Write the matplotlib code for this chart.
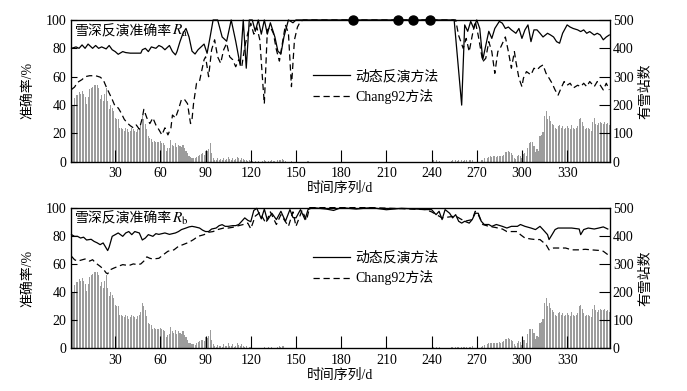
import matplotlib
matplotlib.use('Agg')
import matplotlib.pyplot as plt
from matplotlib.lines import Line2D

plt.rcParams['font.family'] = ['Liberation Serif', 'Noto Sans CJK SC']
plt.rcParams['mathtext.fontset'] = 'stix'
plt.rcParams['font.size'] = 10
plt.rcParams['axes.unicode_minus'] = False

# daily snow station counts, days 1..358
station_counts = [
    155, 200, 225, 235, 235, 245, 240, 250, 240, 230, 205, 230, 255, 260, 265,
    270, 272, 272, 260, 220, 235, 215, 240, 260, 215, 185, 200, 190, 180, 155,
    150, 150, 120, 120, 115, 110, 120, 115, 105, 110, 120, 115, 110, 105, 115,
    120, 130, 160, 150, 135, 115, 90, 85, 82, 70, 72, 70, 70, 70, 72,
    68, 65, 60, 40, 48, 50, 77, 60, 55, 65, 52, 60, 55, 52, 60,
    48, 40, 30, 20, 18, 15, 15, 12, 18, 22, 25, 28, 30, 25, 40,
    38, 45, 65, 30, 15, 8, 5, 12, 8, 10, 5, 15, 8, 10, 18,
    10, 8, 15, 6, 10, 18, 12, 8, 15, 10, 5, 8, 3, 6, 4,
    2, 0, 3, 0, 2, 0, 0, 3, 5, 2, 0, 4, 3, 5, 2,
    3, 0, 5, 8, 6, 10, 8, 2, 0, 0, 0, 2, 0, 0, 0,
    0, 0, 0, 0, 0, 0, 0, 2, 0, 0, 0, 0, 0, 0, 0,
    0, 0, 0, 0, 0, 0, 0, 0, 0, 0, 0, 0, 0, 0, 0,
    0, 0, 1, 0, 0, 0, 0, 0, 0, 0, 0, 0, 0, 0, 0,
    0, 0, 0, 0, 0, 0, 0, 0, 0, 0, 0, 0, 0, 0, 0,
    0, 0, 0, 0, 0, 0, 0, 0, 0, 0, 0, 0, 0, 0, 0,
    0, 0, 0, 0, 0, 0, 0, 0, 0, 0, 0, 0, 0, 0, 0,
    5, 0, 5, 0, 4, 0, 0, 0, 0, 0, 0, 0, 4, 5, 0,
    5, 4, 5, 0, 5, 4, 5, 6, 0, 5, 6, 8, 0, 0, 0,
    0, 0, 5, 8, 12, 0, 15, 18, 20, 18, 20, 20, 18, 20, 22,
    20, 22, 25, 35, 35, 38, 35, 30, 25, 15, 10, 20, 25, 22, 12,
    28, 30, 20, 50, 68, 70, 70, 55, 35, 45, 40, 90, 95, 105, 160,
    180, 150, 160, 145, 135, 130, 120, 115, 125, 130, 120, 125, 115, 120, 125,
    120, 115, 130, 118, 115, 120, 125, 150, 155, 140, 125, 115, 120, 118, 115,
    110, 140, 155, 135, 130, 138, 140, 138, 135, 140, 132, 136, 130,
]
bar_days = list(range(1, len(station_counts) + 1))

# Ra, dynamic inversion
ra_dyn_days = [1, 4, 6, 8, 10, 12, 15, 17, 19, 21, 24, 26, 28, 30, 32, 35, 37, 40, 44, 47,
               48, 50, 52, 54, 57, 59, 61, 63, 66, 68, 70, 71, 73, 75, 77, 79, 81, 83, 85, 87,
               89, 91, 93, 95, 98, 101, 104, 107, 110, 113, 115, 117, 119, 121, 123, 125, 127, 129, 131, 133,
               136, 138, 140, 142, 145, 148, 150, 255, 260, 262, 264, 266, 268, 270, 272, 274, 276, 278, 280, 282,
               285, 287, 289, 291, 293, 296, 298, 300, 302, 304, 306, 308, 310, 312, 314, 317, 319, 321, 323, 325,
               327, 330, 332, 334, 337, 339, 341, 343, 345, 348, 350, 352, 354, 356, 358]
ra_dyn = [80, 81, 80, 82.4, 80, 83, 80, 82, 80, 81, 79.6, 82, 79, 77.7, 75.8, 77.7, 77, 76.6, 76.6, 76.6,
          79, 80, 77.7, 81, 80, 82, 81, 79, 82, 77.7, 75.4, 77.7, 84.7, 90.6, 94, 88, 78, 76, 79, 81,
          83, 76.5, 88, 100, 100, 88, 85, 100, 85, 68, 100, 66, 100, 100, 92, 100, 90, 100, 90, 98,
          88, 78, 76, 88, 100, 98, 100, 100, 40, 96.5, 92, 99, 94, 100, 94, 72, 82, 92, 87, 94,
          99, 97.7, 94, 95, 93, 90.6, 94, 87, 93, 96.5, 84.7, 93, 93, 90.6, 88, 90.6, 89.4, 88, 84.7, 83.6,
          90.6, 96.5, 95, 94, 93, 91.8, 93, 90.6, 91.8, 89.4, 90.6, 89.4, 86, 88, 89.4]

# Ra, Chang92
ra_chang_days = [1, 3, 5, 8, 10, 13, 17, 20, 22, 24, 26, 28, 30, 32, 34, 36, 38, 40, 42, 44,
                 46, 48, 49, 51, 53, 55, 57, 59, 61, 63, 65, 67, 68, 70, 72, 74, 76, 78, 80, 81,
                 82, 84, 86, 88, 89, 90, 91, 92, 94, 96, 98, 100, 102, 104, 106, 108, 110, 112, 114, 116,
                 118, 120, 122, 124, 126, 128, 129, 130, 131, 133, 135, 137, 139, 141, 143, 145, 147, 149, 151, 153,
                 155, 256, 258, 261, 263, 265, 267, 269, 271, 274, 276, 278, 280, 282, 284, 286, 289, 291, 293, 295,
                 296, 298, 300, 301, 303, 306, 308, 310, 312, 314, 316, 318, 320, 322, 324, 326, 328, 330, 332, 334,
                 337, 339, 341, 343, 345, 348, 350, 352, 354, 356, 358]
ra_chang = [51, 52.7, 56, 58, 60, 60.7, 60.7, 59.7, 58, 53, 48.5, 44, 39, 38, 34.4, 30, 27.4, 25.5, 24, 26,
            23, 31, 37, 31, 27, 31, 26, 22.7, 19, 24, 19, 24, 33, 31, 37, 44, 44, 41, 27, 30,
            41, 55.5, 57, 67, 72, 74, 67, 60, 79, 86, 74, 69.5, 79, 83.6, 74, 72, 67, 72, 67, 81,
            90.6, 97.7, 90, 95, 86, 55, 41, 67, 93, 95, 90.6, 79, 71, 83.6, 96.5, 90.6, 53, 86, 95, 99,
            100, 100, 89, 80, 87, 77.7, 89, 99, 89, 70.6, 73, 84.7, 77.7, 62.4, 77.7, 81, 88, 77.7, 66, 77.7,
            70.6, 59, 53, 59, 63.6, 61.3, 66, 64.8, 67, 68.3, 62.4, 59, 55.4, 50.7, 47, 52, 56.6, 54, 55.4, 52,
            54, 53, 55.4, 53, 56.6, 53, 56.6, 54, 50.7, 55.4, 50.7]

# Rb, dynamic inversion
rb_dyn_days = [1, 3, 5, 7, 9, 11, 14, 16, 18, 20, 22, 25, 26, 28, 30, 32, 35, 37, 39, 41,
               43, 46, 48, 50, 52, 55, 57, 59, 61, 63, 66, 68, 70, 72, 74, 77, 79, 81, 83, 86,
               88, 90, 92, 94, 97, 99, 101, 103, 105, 108, 110, 112, 114, 116, 118, 120, 122, 124, 127, 129,
               131, 134, 137, 140, 143, 146, 148, 150, 153, 156, 158, 161, 170, 175, 180, 190, 200, 210, 220, 230,
               236, 240, 243, 245, 247, 249, 252, 254, 256, 258, 260, 262, 265, 267, 269, 271, 273, 275, 278, 280,
               283, 287, 290, 293, 297, 299, 302, 306, 309, 312, 314, 317, 318, 320, 322, 324, 329, 333, 338, 339,
               341, 344, 348, 351, 354, 357]
rb_dyn = [80.8, 79.6, 79.6, 78.4, 79, 77, 77.5, 76, 75, 73.7, 74.9, 69.5, 72, 79.6, 80.8, 82, 79.6, 82, 83, 80.8,
          83, 82, 77, 78.4, 80.8, 79.6, 81.5, 81, 81.5, 82, 81, 81.5, 82, 83, 84.4, 85.5, 86.3, 86.7, 86.3, 85.5,
          84, 83, 83, 84.8, 85.5, 87.2, 87.9, 86.7, 86.7, 87.2, 87.2, 88, 90.3, 92.7, 91, 90, 98, 99.5, 92, 99,
          91, 96, 91.5, 97.4, 90.3, 98.6, 93, 92.7, 98.6, 91.5, 98.6, 100, 99, 98, 100, 99, 100, 98.5, 99.5, 99,
          98.6, 98.6, 95, 97.4, 91.5, 98.6, 96, 92.7, 95, 90.3, 89, 90.3, 89, 91.5, 96, 96, 90.3, 88, 88, 86.7,
          88, 86.7, 85.5, 86.7, 86.7, 88, 86.7, 85.5, 84.4, 86.7, 84.4, 80.8, 77.3, 80.8, 84.4, 85.5, 85.5, 85.5, 84.8, 80.8,
          84.4, 85.5, 84.8, 85.5, 86.3, 84.8]

# Rb, Chang92
rb_chang_days = [1, 3, 5, 7, 10, 13, 15, 17, 20, 22, 24, 25, 27, 29, 32, 35, 39, 42, 45, 47,
                 49, 51, 53, 55, 59, 62, 65, 69, 72, 75, 79, 82, 85, 89, 92, 95, 98, 102, 105, 108,
                 112, 115, 118, 120, 123, 126, 130, 133, 137, 140, 145, 148, 150, 154, 157, 159, 200, 236, 240, 247,
                 256, 262, 267, 269, 271, 274, 278, 282, 287, 290, 294, 297, 299, 302, 306, 309, 312, 316, 318, 321,
                 324, 329, 333, 338, 342, 346, 351, 354, 357]
rb_chang = [65.4, 63, 62, 62.6, 63.5, 62, 63, 60.7, 58.3, 56.5, 53.6, 53, 56, 57, 58.3, 59.5, 58.8, 60, 59.5, 60,
            62, 65, 64, 63.5, 64, 66.6, 69, 70, 72.5, 73.7, 75.4, 77.3, 79.6, 80.8, 82.5, 83, 84.4, 85.5, 85.5, 86,
            87.2, 88, 89, 85, 94, 96.5, 89, 97, 88, 95, 86.7, 97, 86.7, 98, 91, 100, 100, 98.6, 97, 92.7,
            94, 90.3, 91.5, 97.4, 95, 88, 86.7, 86, 84.8, 83, 83, 83, 80.8, 78.4, 77.7, 77.3, 77.3, 73.7, 70, 71.3,
            71.3, 71.3, 70, 70, 70.4, 70, 69.6, 69, 66.6]

dot_days = [188, 218, 228, 239]
dot_values = [100, 100, 100, 100]

legend_labels = ['动态反演方法', 'Chang92方法']


def draw_panel(ax, dyn_days, dyn, chang_days, chang, sub, legend_y):
    ax2 = ax.twinx()
    ax2.bar(bar_days, station_counts, width=0.7, color='#9c9c9c', linewidth=0)
    ax2.set_ylim(0, 500)
    ax2.set_yticks([0, 100, 200, 300, 400, 500])
    ax2.tick_params(axis='y', direction='in', length=8, width=0.8, pad=2, labelsize=10)
    ax2.set_ylabel('有雪站数', labelpad=4)

    # lines above bars
    ax.set_zorder(ax2.get_zorder() + 1)
    ax.patch.set_visible(False)
    ax.plot(dyn_days, dyn, color='k', lw=0.9, clip_on=False)
    ax.plot(chang_days, chang, color='k', lw=0.9, ls=(0, (5, 3)), clip_on=False)

    ax.set_xlim(0.5, 358.5)
    ax.set_ylim(0, 100)
    ax.set_xticks(range(30, 331, 30))
    ax.set_yticks([0, 20, 40, 60, 80, 100])
    ax.tick_params(axis='x', direction='in', length=9, width=0.8, pad=4, labelsize=10)
    ax.tick_params(axis='y', direction='in', length=4, width=0.8, pad=3, labelsize=10)
    ax.set_xlabel('时间序列/d', labelpad=1)
    ax.set_ylabel('准确率/%', labelpad=8)
    for sp in ax.spines.values():
        sp.set_linewidth(0.9)

    t = ax.text(0.008, 0.92, '雪深反演准确率', transform=ax.transAxes,
                ha='left', va='center', fontsize=10)
    ax.annotate('$R_{\\mathrm{%s}}$' % sub, xy=(1, 0.5), xycoords=t,
                ha='left', va='center', fontsize=11)

    handles = [Line2D([], [], color='k', lw=0.9),
               Line2D([], [], color='k', lw=0.9, ls=(0, (5, 3)))]
    ax.legend(handles, legend_labels, loc='upper left', bbox_to_anchor=(0.45, legend_y),
              frameon=False, handlelength=2.6, handletextpad=0.4, labelspacing=0.4,
              borderpad=0, borderaxespad=0, fontsize=10)
    return ax2


fig = plt.figure(figsize=(6.87, 3.91), dpi=100)
ax_top = fig.add_axes([0.103, 0.586, 0.785, 0.363])
ax_bot = fig.add_axes([0.103, 0.109, 0.785, 0.360])

draw_panel(ax_top, ra_dyn_days, ra_dyn, ra_chang_days, ra_chang, 'a', 0.65)
ax_top.plot(dot_days, dot_values, 'o', color='k', ms=6.5, clip_on=False)
draw_panel(ax_bot, rb_dyn_days, rb_dyn, rb_chang_days, rb_chang, 'b', 0.69)

fig.savefig('out.png', dpi=100, facecolor='white')
